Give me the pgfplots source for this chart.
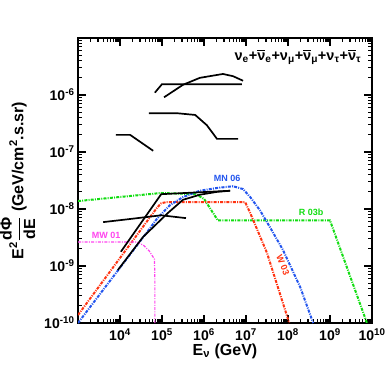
\documentclass[border=0pt]{standalone}
\usepackage{fontspec}
\setmainfont{Liberation Sans}
\usepackage{amsmath}
\usepackage{pgfplots}
\pgfplotsset{compat=1.18}
\definecolor{cgreen}{HTML}{11DD11}
\definecolor{cred}{HTML}{FF3311}
\definecolor{cblue}{HTML}{2255EE}
\definecolor{cmag}{HTML}{FF44EE}
\tikzset{
  dd/.style={line width=2pt, dash pattern=on 3pt off 1.2pt on 1pt off 1.2pt},
  bk/.style={black, line width=1.7pt},
}
\begin{document}
\begin{tikzpicture}
\useasboundingbox (-78pt,-58pt) rectangle (313pt,323pt);
\begin{axis}[
  xmode=log, ymode=log,
  xmin=1e3, xmax=1e10, ymin=1e-10, ymax=1e-5,
  scale only axis, width=294pt, height=285pt,
  axis line style={line width=1.8pt},
  tick style={black, line width=1.2pt},
  major tick length=8pt, minor tick length=4pt,
  tick align=inside,
  xtick={1e4,1e5,1e6,1e7,1e8,1e9,1e10},
  xticklabels={10\textsuperscript{4},10\textsuperscript{5},10\textsuperscript{6},10\textsuperscript{7},10\textsuperscript{8},10\textsuperscript{9},10\textsuperscript{10}},
  ytick={1e-10,1e-9,1e-8,1e-7,1e-6,1e-5},
  yticklabels={10\textsuperscript{-10},10\textsuperscript{-9},10\textsuperscript{-8},10\textsuperscript{-7},10\textsuperscript{-6},},
  minor xtick={2e3,3e3,4e3,5e3,6e3,7e3,8e3,9e3,2e4,3e4,4e4,5e4,6e4,7e4,8e4,9e4,2e5,3e5,4e5,5e5,6e5,7e5,8e5,9e5,2e6,3e6,4e6,5e6,6e6,7e6,8e6,9e6,2e7,3e7,4e7,5e7,6e7,7e7,8e7,9e7,2e8,3e8,4e8,5e8,6e8,7e8,8e8,9e8,2e9,3e9,4e9,5e9,6e9,7e9,8e9,9e9},
  minor ytick={2e-10,3e-10,4e-10,5e-10,6e-10,7e-10,8e-10,9e-10,2e-9,3e-9,4e-9,5e-9,6e-9,7e-9,8e-9,9e-9,2e-8,3e-8,4e-8,5e-8,6e-8,7e-8,8e-8,9e-8,2e-7,3e-7,4e-7,5e-7,6e-7,7e-7,8e-7,9e-7,2e-6,3e-6,4e-6,5e-6,6e-6,7e-6,8e-6,9e-6},
  ticklabel style={font=\bfseries\fontsize{14}{16}\selectfont},
  xticklabel style={yshift=-2pt},
  xlabel={E\textsubscript{ν} (GeV)},
  ylabel={E$^{\text{2}}\displaystyle\frac{\text{dΦ}}{\text{dE}}$ (GeV/cm\textsuperscript{2}.s.sr)},
  label style={font=\bfseries\fontsize{16}{18}\selectfont},
  xlabel style={yshift=4pt},
  ylabel style={yshift=2pt},
]
% R 03b
\addplot[cgreen, dd] coordinates {(1e3,1.38e-8)(9.55e4,1.91e-8)(6.31e5,1.82e-8)(1e6,1.51e-8)(1.58e6,8.91e-9)(2.14e6,6.31e-9)(1e9,6.31e-9)(7.59e9,1e-10)};
% W 03
\addplot[cred, dd] coordinates {(1e3,1.38e-10)(7.59e4,1.05e-8)(9.55e4,1.26e-8)(1.26e5,1.32e-8)(9.55e6,1.32e-8)(1.26e7,8.51e-9)(3.16e7,1.70e-9)(1.07e8,1e-10)};
% MN 06
\addplot[cblue, dd] coordinates {(1e3,1e-10)(4.68e4,4.17e-9)(7.59e4,6.76e-9)(1.55e5,1.17e-8)(3.16e5,1.62e-8)(7.94e5,2.09e-8)(2.04e6,2.34e-8)(4.90e6,2.51e-8)(8.51e6,2.24e-8)(1.26e7,1.62e-8)(2.14e7,9.55e-9)(3.72e7,4.79e-9)(7.59e7,1.91e-9)(1.95e8,4.27e-10)(3.98e8,1e-10)};
% MW 01
\addplot[cmag, line width=1.2pt, dash pattern=on 3pt off 1.3pt on 1pt off 1.3pt] coordinates {(1e3,2.63e-9)(2.51e4,2.63e-9)(3.55e4,2.34e-9)(5.01e4,1.82e-9)(6.61e4,1.32e-9)(6.76e4,6.31e-10)(6.76e4,1e-10)};
% black limits
\addplot[bk] coordinates {(1.05e4,1.78e-9)(9.55e4,1.82e-8)(4.17e6,2.09e-8)};
\addplot[bk] coordinates {(8.91e3,8.51e-10)(3.55e4,3.24e-9)(1.38e5,8.51e-9)(3.16e5,1.45e-8)(7.94e5,1.78e-8)(2.04e6,2.0e-8)(4.17e6,2.09e-8)};
\addplot[bk] coordinates {(3.98e3,5.89e-9)(2.0e4,6.76e-9)(9.55e4,7.76e-9)(3.72e5,6.92e-9)};
\addplot[bk] coordinates {(6.76e4,1.10e-6)(1e5,1.55e-6)(7.94e6,1.55e-6)};
\addplot[bk] coordinates {(1.12e5,9.12e-7)(3.16e5,1.51e-6)(7.94e5,2.0e-6)(2.82e6,2.34e-6)(4.90e6,2.14e-6)(8.51e6,1.78e-6)};
\addplot[bk] coordinates {(4.90e4,4.79e-7)(2.29e5,4.79e-7)(6.17e5,4.47e-7)(1.17e6,2.95e-7)(2.04e6,1.70e-7)(6.46e6,1.70e-7)};
\addplot[bk] coordinates {(7.94e3,2.0e-7)(1.74e4,2.0e-7)(3.02e4,1.51e-7)(6.17e4,1.05e-7)};
% labels
\node[cmag, font=\bfseries\fontsize{9}{10}\selectfont] at (axis cs:4.68e3,3.39e-9) {MW 01};
\node[cblue, font=\bfseries\fontsize{9}{10}\selectfont] at (axis cs:3.55e6,3.47e-8) {MN 06};
\node[cgreen, font=\bfseries\fontsize{9}{10}\selectfont] at (axis cs:3.55e8,8.91e-9) {R 03b};
\node[cred, font=\bfseries\fontsize{9}{10}\selectfont, rotate=-68, inner sep=0pt] at (axis cs:7.6e7,1.05e-9) {W 03};
\node[anchor=east, font=\bfseries\fontsize{14.5}{16}\selectfont] at (rel axis cs:0.975,0.933)
  {ν\textsubscript{e}+$\overline{\text{ν}}$\textsubscript{e}+ν\textsubscript{μ}+$\overline{\text{ν}}$\textsubscript{μ}+ν\textsubscript{τ}+$\overline{\text{ν}}$\textsubscript{τ}};
\end{axis}
\end{tikzpicture}
\end{document}
